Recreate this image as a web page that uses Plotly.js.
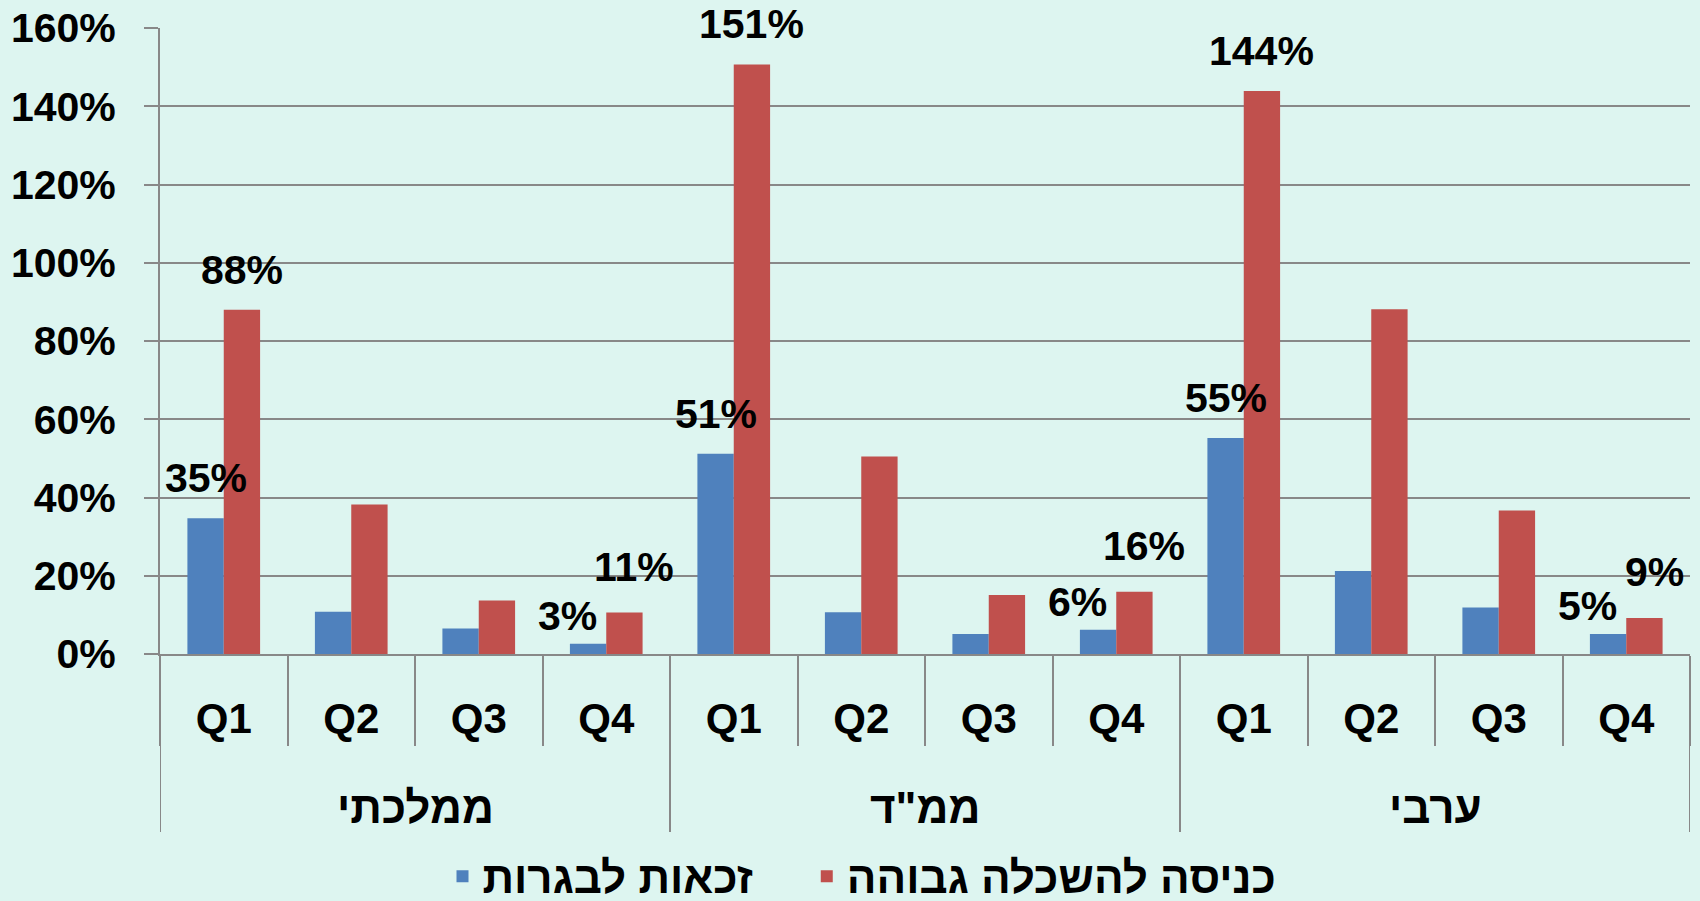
<!DOCTYPE html>
<html>
<head>
<meta charset="utf-8">
<script src="https://cdn.plot.ly/plotly-3.0.1.min.js"></script>
<style>
  body { margin: 0; background: #DDF5F0; }
  #chart { width: 1700px; height: 901px; }
</style>
</head>
<body>
<div id="chart"></div>
<script>
// sector of each bar pair, and the quarter inside it
const sectors = ['ממלכתי', 'ממלכתי', 'ממלכתי', 'ממלכתי',
                 'ממ"ד', 'ממ"ד', 'ממ"ד', 'ממ"ד',
                 'ערבי', 'ערבי', 'ערבי', 'ערבי'];
const quarters = ['Q1', 'Q2', 'Q3', 'Q4', 'Q1', 'Q2', 'Q3', 'Q4', 'Q1', 'Q2', 'Q3', 'Q4'];

// values in percent
const bagrut = [34.7, 10.8, 6.5, 2.6, 51.2, 10.7, 5.1, 6.2, 55.2, 21.2, 11.9, 5.1];
const higherEd = [88.0, 38.2, 13.7, 10.6, 150.7, 50.5, 15.1, 15.9, 143.9, 88.1, 36.7, 9.2];

// only these quarters carry a value label
const labelledQuarters = ['Q1', 'Q4'];

const seriesNames = ['זכאות לבגרות', 'כניסה להשכלה גבוהה'];
const seriesColors = ['#4F81BD', '#C0504D'];

const FONT = 'Liberation Sans, Arial, sans-serif';
const GRID = '#888888';
const boldFont = (size) => ({ family: FONT, size: size, weight: 700, color: '#000' });

// plot box in pixels
const W = 1700, H = 901;
const M = { l: 160, r: 10, t: 28, b: 247 };
const plotW = W - M.l - M.r;
const plotH = H - M.t - M.b;
const BARGAP = 0.43;

// unique key per slot, quarter shown as its tick text
const slots = sectors.map((s, i) => s + ' ' + quarters[i]);

// a little extra room after the first legend entry, like Excel leaves
const legendPad = '\u00A0\u00A0\u00A0\u00A0';

const traces = [bagrut, higherEd].map((vals, k) => ({
  type: 'bar',
  x: slots,
  y: vals,
  name: seriesNames[k] + (k === 0 ? legendPad : ''),
  marker: { color: seriesColors[k] },
  hoverinfo: 'y'
}));

// value labels: above each bar, Excel pulls the Q4 pair apart
const halfBar = plotW / slots.length * (1 - BARGAP) / 4;
const annotations = [];
[bagrut, higherEd].forEach((vals, k) => {
  vals.forEach((v, i) => {
    if (!labelledQuarters.includes(quarters[i])) return;
    const q4 = quarters[i] === 'Q4';
    let dx = k === 0 ? -halfBar : halfBar;
    let dy = 40;
    if (q4) {
      dx += k === 0 ? -21 : 10;
      dy = k === 0 ? 28 : 46;
    }
    annotations.push({
      x: slots[i], y: v, xref: 'x', yref: 'y',
      text: Math.round(v) + '%',
      showarrow: false,
      xshift: dx, yshift: dy,
      xanchor: 'center', yanchor: 'middle',
      font: boldFont(41)
    });
  });
});

// sector names under the quarters, and the long dividers between sectors
const sectorList = [...new Set(sectors)];
const shapes = [];
sectorList.forEach(s => {
  const idx = sectors.map((v, i) => v === s ? i : -1).filter(i => i >= 0);
  const first = idx[0], last = idx[idx.length - 1];
  annotations.push({
    x: (first + last) / 2, xref: 'x',
    y: -153 / plotH, yref: 'paper',
    text: s, showarrow: false,
    xanchor: 'center', yanchor: 'middle',
    font: boldFont(44)
  });
  shapes.push({ type: 'line', xref: 'x', yref: 'paper', x0: first - 0.5, x1: first - 0.5,
    y0: 0, y1: -178 / plotH, line: { color: GRID, width: 2 } });
  if (last === sectors.length - 1) {
    shapes.push({ type: 'line', xref: 'x', yref: 'paper', x0: last + 0.5, x1: last + 0.5,
      y0: 0, y1: -178 / plotH, line: { color: GRID, width: 2 } });
  }
});

const layout = {
  width: W,
  height: H,
  paper_bgcolor: '#DDF5F0',
  plot_bgcolor: '#DDF5F0',
  margin: M,
  barmode: 'group',
  bargap: BARGAP,
  bargroupgap: 0,
  font: boldFont(40),
  xaxis: {
    type: 'category',
    range: [-0.5, slots.length - 0.5],
    tickvals: slots,
    ticktext: quarters,
    tickson: 'boundaries',
    showline: true,
    linecolor: GRID,
    linewidth: 2,
    ticks: 'outside',
    ticklen: 90,
    tickwidth: 2,
    tickcolor: GRID,
    ticklabelstandoff: 27,
    showgrid: false,
    tickfont: boldFont(42)
  },
  yaxis: {
    range: [0, 160],
    dtick: 20,
    ticksuffix: '%',
    showgrid: true,
    gridcolor: GRID,
    gridwidth: 2,
    zeroline: false,
    showline: true,
    linecolor: GRID,
    linewidth: 2,
    ticks: 'outside',
    ticklen: 14,
    tickwidth: 2,
    tickcolor: GRID,
    ticklabelstandoff: 20,
    tickfont: boldFont(41)
  },
  annotations: annotations,
  shapes: shapes,
  legend: {
    orientation: 'h',
    xref: 'container',
    yref: 'container',
    x: 862 / W,
    xanchor: 'center',
    y: 0.027,
    yanchor: 'middle',
    font: boldFont(44),
    bgcolor: 'rgba(0,0,0,0)'
  },
  showlegend: true
};

Plotly.newPlot('chart', traces, layout, { displayModeBar: false });
</script>
</body>
</html>
